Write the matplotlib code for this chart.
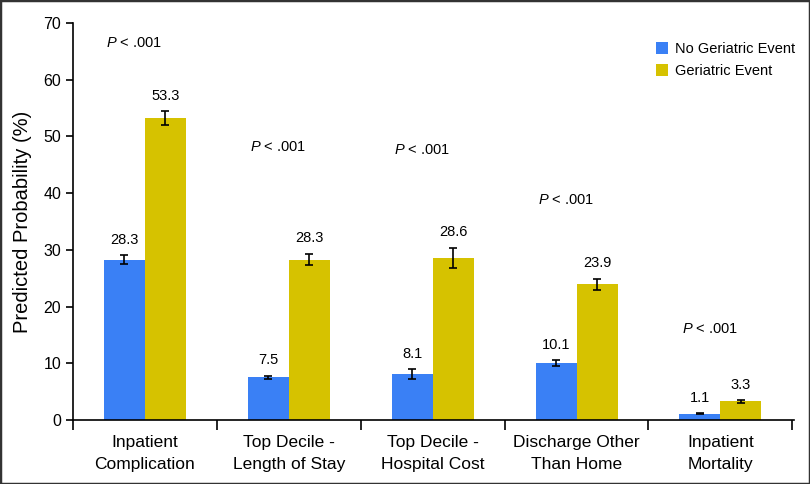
import matplotlib.pyplot as plt
from matplotlib.patches import Rectangle
import numpy as np

categories = ['Inpatient\nComplication', 'Top Decile -\nLength of Stay',
              'Top Decile -\nHospital Cost', 'Discharge Other\nThan Home',
              'Inpatient\nMortality']
no_event = [28.3, 7.5, 8.1, 10.1, 1.1]
no_event_err = [0.8, 0.3, 0.9, 0.5, 0.1]
event = [53.3, 28.3, 28.6, 23.9, 3.3]
event_err = [1.2, 1.0, 1.8, 1.0, 0.25]
p_labels = ['$P$ < .001'] * 5
p_heights = [66.4, 48.1, 47.6, 38.8, 16.0]

blue = '#3a80f5'
gold = '#d6c200'
plt.rcParams['font.family'] = ['Liberation Sans', 'DejaVu Sans']
plt.rcParams['mathtext.fontset'] = 'custom'
plt.rcParams['mathtext.it'] = 'Liberation Sans:italic'

fig = plt.figure(figsize=(8.1, 4.84), dpi=100)
ax = fig.add_axes([0.0901, 0.1322, 0.8899, 0.8203])

x = np.arange(len(categories))
w = 0.285

ax.bar(x - w / 2, no_event, w, color=blue, label='No Geriatric Event')
ax.bar(x + w / 2, event, w, color=gold, label='Geriatric Event')
ax.errorbar(x - w / 2, no_event, yerr=no_event_err, fmt='none',
            ecolor='black', elinewidth=1.2, capsize=3, capthick=1.2)
ax.errorbar(x + w / 2, event, yerr=event_err, fmt='none',
            ecolor='black', elinewidth=1.2, capsize=3, capthick=1.2)

# valores em cima das barras
for xi, v, e in zip(x - w / 2, no_event, no_event_err):
    ax.annotate(f'{v:.1f}', (xi, v + e), xytext=(0, 6), textcoords='offset points',
                ha='center', va='bottom', fontsize=10.5)
for xi, v, e in zip(x + w / 2, event, event_err):
    ax.annotate(f'{v:.1f}', (xi, v + e), xytext=(0, 6), textcoords='offset points',
                ha='center', va='bottom', fontsize=10.5)

for xi, t, h in zip(x, p_labels, p_heights):
    ax.text(xi - 0.27, h, t, ha='left', va='center', fontsize=10.5)

ax.set_xlim(-0.5, 4.51)
ax.set_ylim(0, 70)
ax.set_yticks(range(0, 71, 10))
ax.set_xticks(x)
ax.set_xticklabels(categories, fontsize=12.5, linespacing=1.55)
ax.set_xticks(np.arange(-0.5, 5, 1), minor=True)
ax.tick_params(axis='x', which='major', length=0, pad=11)
ax.tick_params(axis='x', which='minor', length=7, width=1.2, direction='out')
ax.tick_params(axis='y', length=5, width=1.2, labelsize=11.5)
ax.set_ylabel('Predicted Probability (%)', fontsize=14.5, labelpad=8)

ax.spines['top'].set_visible(False)
ax.spines['right'].set_visible(False)
ax.spines['left'].set_linewidth(1.2)
ax.spines['bottom'].set_linewidth(1.2)

leg = ax.legend(loc='upper right', bbox_to_anchor=(1.02, 0.985), frameon=False,
                fontsize=10.5, handlelength=0.8, handleheight=0.8, handletextpad=0.5,
                labelspacing=0.55)

fig.patches.append(Rectangle((0, 0), 1, 1, transform=fig.transFigure,
                             fill=False, edgecolor='#333333', lw=2.5))

plt.savefig('out.png', dpi=100)
